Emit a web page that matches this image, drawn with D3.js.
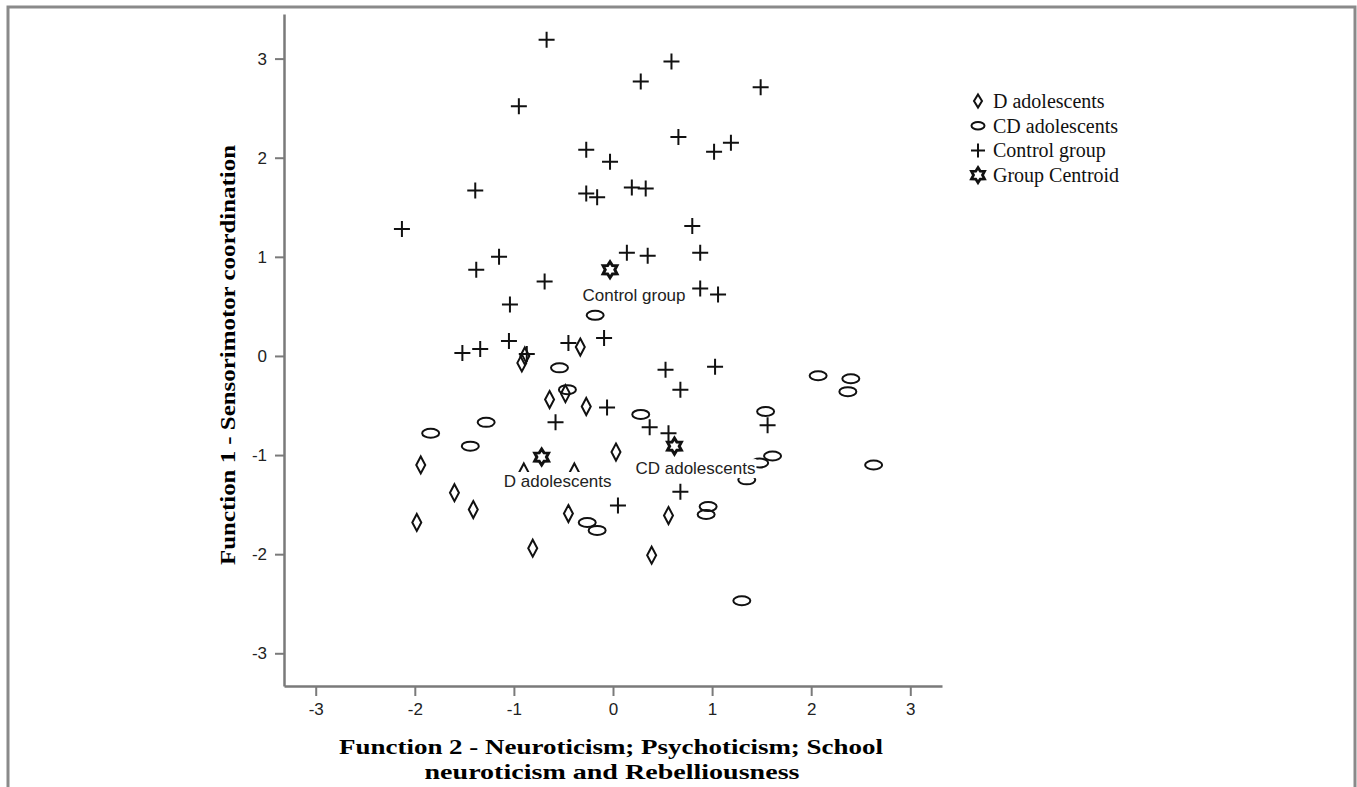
<!DOCTYPE html>
<html>
<head>
<meta charset="utf-8">
<script src="https://cdn.jsdelivr.net/npm/d3@7"></script>
<style>
  body { margin: 0; background: #fff; }
  svg { display: block; }
</style>
</head>
<body>
<div id="chart"></div>
<script>
var WD = 1357, HT = 787

// D adolescents (diamonds)
var dX = [-0.33, -0.92, -0.89, -0.64, -0.48, -0.27, -1.94, 0.03, -1.60, -1.98, -1.41, -0.45, -0.81, 0.39, 0.56, -0.90, -0.39]
var dY = [0.09, -0.07, 0.00, -0.44, -0.38, -0.51, -1.10, -0.97, -1.38, -1.68, -1.55, -1.59, -1.94, -2.01, -1.61, -1.17, -1.17]

// CD adolescents (ellipses)
var cdX = [-0.18, -0.54, -0.46, -1.28, -1.84, -1.44, 0.28, 2.07, 2.40, 2.37, 1.54, 1.61, 2.63, 0.96, 0.94, -0.26, -0.16, 1.30, 1.35, 1.48]
var cdY = [0.41, -0.12, -0.34, -0.67, -0.78, -0.91, -0.59, -0.20, -0.23, -0.36, -0.56, -1.01, -1.10, -1.52, -1.60, -1.68, -1.76, -2.47, -1.25, -1.08]

// Control group (plus)
var ctrlX = [-0.67, 0.59, 0.28, 1.49, -0.95, -0.27, -0.03, 0.66, 1.02, 1.19, -1.39, -0.27, -0.16, 0.19, 0.33, -2.13, 0.80, -1.15, -1.38, 0.14, 0.35, 0.88, -0.69, 0.88, 1.06, -1.04, -1.05, -1.52, -1.34, -0.87, -0.45, -0.09, 0.53, 0.68, 1.03, -0.58, -0.06, 0.37, 0.56, 1.56, 0.68, 0.05]
var ctrlY = [3.19, 2.97, 2.77, 2.71, 2.52, 2.08, 1.96, 2.21, 2.06, 2.15, 1.67, 1.64, 1.60, 1.70, 1.69, 1.28, 1.31, 1.00, 0.87, 1.04, 1.01, 1.04, 0.75, 0.68, 0.62, 0.52, 0.15, 0.03, 0.07, 0.02, 0.13, 0.18, -0.14, -0.34, -0.11, -0.67, -0.52, -0.72, -0.78, -0.70, -1.37, -1.51]

// group centroids
var centNames = ["Control group", "D adolescents", "CD adolescents"]
var centX = [-0.03, -0.72, 0.62]
var centY = [0.87, -1.02, -0.91]

var tickVals = [-3, -2, -1, 0, 1, 2, 3]
var legendNames = ["D adolescents", "CD adolescents", "Control group", "Group Centroid"]

var svg = d3.select("#chart").append("svg")
    .attr("width", WD).attr("height", HT)

// outer frame (top, left, right)
svg.append("path")
    .attr("d", "M8,787 L8,7 L1355,7 L1355,787")
    .attr("fill", "none").attr("stroke", "#8a8a8a").attr("stroke-width", 3)

var x = d3.scaleLinear().domain([-3.32, 3.32]).range([284, 942])
var y = d3.scaleLinear().domain([-3.33, 3.45]).range([686, 14])

var axisCol = "#7a7a7a"

var gx = svg.append("g").attr("transform", "translate(0,686)")
    .call(d3.axisBottom(x).tickValues(tickVals).tickSizeInner(10).tickSizeOuter(0).tickPadding(7).tickFormat(d3.format("d")))
var gy = svg.append("g").attr("transform", "translate(284,0)")
    .call(d3.axisLeft(y).tickValues(tickVals).tickSizeInner(9).tickSizeOuter(0).tickPadding(8).tickFormat(d3.format("d")))

;[gx, gy].forEach(function(g) {
  g.select(".domain").attr("stroke", axisCol).attr("stroke-width", 2.5)
  g.selectAll(".tick line").attr("stroke", axisCol).attr("stroke-width", 2)
  g.selectAll(".tick text").attr("fill", "#222").style("font-family", "Liberation Sans, Arial, sans-serif").style("font-size", "17px")
})
gx.selectAll(".tick text").text(function(d){ return d < 0 ? "-" + Math.abs(d) : d })
gy.selectAll(".tick text").text(function(d){ return d < 0 ? "-" + Math.abs(d) : d })

// axis titles
svg.append("text")
    .attr("transform", "translate(235,355) rotate(-90)")
    .attr("text-anchor", "middle")
    .attr("textLength", 420).attr("lengthAdjust", "spacingAndGlyphs")
    .style("font-family", "Liberation Serif, Times New Roman, serif")
    .style("font-weight", "bold").style("font-size", "21px")
    .text("Function 1 - Sensorimotor coordination")

svg.append("text")
    .attr("x", 611).attr("y", 754)
    .attr("text-anchor", "middle")
    .attr("textLength", 544).attr("lengthAdjust", "spacingAndGlyphs")
    .style("font-family", "Liberation Serif, Times New Roman, serif")
    .style("font-weight", "bold").style("font-size", "21px")
    .text("Function 2 - Neuroticism; Psychoticism; School")
svg.append("text")
    .attr("x", 612).attr("y", 779)
    .attr("text-anchor", "middle")
    .attr("textLength", 375).attr("lengthAdjust", "spacingAndGlyphs")
    .style("font-family", "Liberation Serif, Times New Roman, serif")
    .style("font-weight", "bold").style("font-size", "21px")
    .text("neuroticism and Rebelliousness")

// marker shapes
function diamondPath(w, h) {
  return "M0," + (-h/2) + " L" + (w/2) + ",0 L0," + (h/2) + " L" + (-w/2) + ",0 Z"
}
function plusPath(s) {
  return "M" + (-s/2) + ",0 L" + (s/2) + ",0 M0," + (-s/2) + " L0," + (s/2)
}
function starPath(ro, ri) {
  var pts = []
  for (var i = 0; i < 12; i++) {
    var r = i % 2 === 0 ? ro : ri
    var a = Math.PI * i / 6 - Math.PI / 2
    pts.push([r * Math.cos(a), r * Math.sin(a)])
  }
  return "M" + pts.map(function(p){ return p[0].toFixed(2) + "," + p[1].toFixed(2) }).join(" L") + " Z"
}

var ink = "#111"
var dData = dX.map(function(v, i){ return { x: v, y: dY[i] } })
var cdData = cdX.map(function(v, i){ return { x: v, y: cdY[i] } })
var ctrlData = ctrlX.map(function(v, i){ return { x: v, y: ctrlY[i] } })
var centData = centX.map(function(v, i){ return { name: centNames[i], x: v, y: centY[i] } })

var plot = svg.append("g")

plot.selectAll(".cd").data(cdData).enter().append("ellipse")
    .attr("class", "cd")
    .attr("cx", function(d){ return x(d.x) }).attr("cy", function(d){ return y(d.y) })
    .attr("rx", 8.5).attr("ry", 4.5)
    .attr("fill", "none").attr("stroke", ink).attr("stroke-width", 2)

plot.selectAll(".dd").data(dData).enter().append("path")
    .attr("class", "dd")
    .attr("transform", function(d){ return "translate(" + x(d.x) + "," + y(d.y) + ")" })
    .attr("d", diamondPath(9, 17))
    .attr("fill", "none").attr("stroke", ink).attr("stroke-width", 2)

plot.selectAll(".ctrl").data(ctrlData).enter().append("path")
    .attr("class", "ctrl")
    .attr("transform", function(d){ return "translate(" + x(d.x) + "," + y(d.y) + ")" })
    .attr("d", plusPath(16))
    .attr("fill", "none").attr("stroke", ink).attr("stroke-width", 2)

// centroid labels on white boxes (they hide markers beneath them)
var labelDx = [24, 16, 21], labelDy = [25, 24, 22]
var labels = plot.selectAll(".clab").data(centData).enter().append("g")
    .attr("transform", function(d, i){ return "translate(" + (x(d.x) + labelDx[i]) + "," + (y(d.y) + labelDy[i]) + ")" })
labels.append("text")
    .attr("text-anchor", "middle").attr("dy", "0.35em")
    .style("font-family", "Liberation Sans, Arial, sans-serif").style("font-size", "17px")
    .attr("fill", "#222")
    .text(function(d){ return d.name })
labels.each(function() {
  var g = d3.select(this), bb = g.select("text").node().getBBox()
  g.insert("rect", "text")
    .attr("x", bb.x - 1).attr("y", bb.y).attr("width", bb.width + 2).attr("height", bb.height)
    .attr("fill", "#fff")
})

plot.selectAll(".cent").data(centData).enter().append("path")
    .attr("class", "cent")
    .attr("transform", function(d){ return "translate(" + x(d.x) + "," + y(d.y) + ")" })
    .attr("d", starPath(8, 4.8))
    .attr("fill", "#fff").attr("stroke", ink).attr("stroke-width", 3)

// legend
var legend = svg.append("g").attr("transform", "translate(978,101)")
var rows = legend.selectAll("g").data(legendNames).enter().append("g")
    .attr("transform", function(d, i){ return "translate(0," + (i * 24.7) + ")" })
rows.append("text")
    .attr("x", 15).attr("dy", "0.35em")
    .style("font-family", "Liberation Serif, Times New Roman, serif").style("font-size", "20px")
    .attr("fill", "#111")
    .text(function(d){ return d })
rows.each(function(d, i) {
  var g = d3.select(this)
  if (i === 0) g.append("path").attr("d", diamondPath(8, 13)).attr("fill", "none").attr("stroke", ink).attr("stroke-width", 2)
  if (i === 1) g.append("ellipse").attr("rx", 6.5).attr("ry", 3.8).attr("fill", "none").attr("stroke", ink).attr("stroke-width", 2)
  if (i === 2) g.append("path").attr("d", plusPath(14)).attr("fill", "none").attr("stroke", ink).attr("stroke-width", 2)
  if (i === 3) g.append("path").attr("d", starPath(7.5, 4.5)).attr("fill", "#fff").attr("stroke", ink).attr("stroke-width", 2.8)
})
</script>
</body>
</html>
